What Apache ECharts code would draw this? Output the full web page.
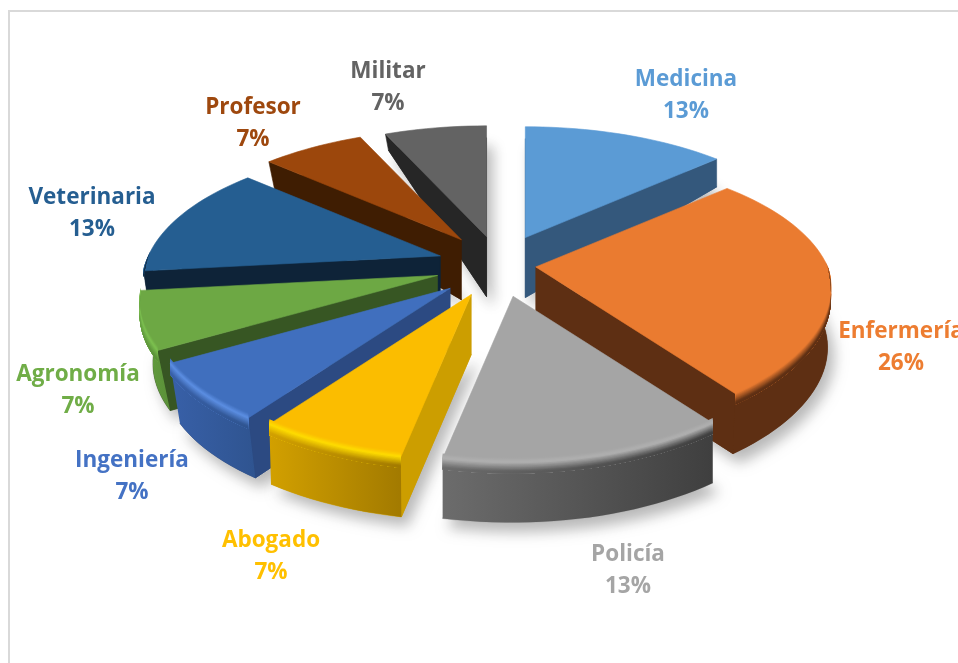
<!DOCTYPE html>
<html><head><meta charset="utf-8">
<style>html,body{margin:0;padding:0;background:#fff;overflow:hidden}#c{width:958px;height:663px}</style>
<script src="https://cdn.jsdelivr.net/npm/echarts@6/dist/echarts.min.js"></script>
</head><body><div id="c"></div>
<script>
// ---- data ----
const categories = ['Medicina','Enfermería','Policía','Abogado','Ingeniería','Agronomía','Veterinaria','Profesor','Militar'];
const values = [13.3,26.4,13.3,6.7,6.7,6.7,13.3,6.7,6.7];
// ---- styles ----
const topColors  = ['#5b9bd5','#ea7b30','#a5a5a5','#fbbd00','#406fbe','#6da844','#255e91','#9c470c','#636363'];
const sideColors = ['#34587c','#5e2f13','#a5a5a5','#cc9e00','#2c4a82','#375623','#0e2338','#3f1d02','#262626'];
const rimLeft    = ['#34587c','#5e2f13','#6c6c6c','#d2a000','#3860a8','#659f40','#0e2338','#3f1d02','#262626'];
const rimRight   = ['#34587c','#5e2f13','#3f3f3f','#a27a00','#2f5490','#5a9038','#0e2338','#3f1d02','#262626'];
const bevelLight = ['#5b9bd5','#ea7b30','#b0b0b0','#ffdc00','#5b8ee2','#7cc14f','#255e91','#9c470c','#636363'];
const labelColors= ['#5b9bd5','#ed7d31','#a5a5a5','#ffc000','#4472c4','#70ad47','#255e91','#9e480e','#636363'];
// ---- layout ----
const drawOrder = [8,0,7,6,5,4,1,3,2];
const explodeTweak = [[15,-1],[-4,-2],[12,1],[1,1],[-3,2],[-5,0],[-2,-1],[1,-2],[7,0]];
const bottomInset = [0,0.012,0,0.008,0.035,0.045,0.03,0.03,0.03];
const labelAnchor = [[686,96],[901,348],[628,571],[271,557],[132,477],[78,391],[92,214],[253,124],[388,88]];
const CX=490, CY=266, RX=50, RY=30, B=292, A=133, K=0.2;

const total = values.reduce((a,b)=>a+b,0);
const starts=[]; let acc=0;
values.forEach(v=>{starts.push(acc/total*360); acc+=v;});
const rad=d=>d*Math.PI/180;
function proj(t){
  const u=Math.sin(rad(t)), v=-Math.cos(rad(t));
  const bx=u>0?B-15*Math.max(v,0):B;
  return [bx*u/(1-K*v), A*v/(1-K*v), v];
}
const depth=v=>v>=0?60:60+48*v;
function hex(c){return [1,3,5].map(i=>parseInt(c.substr(i,2),16));}
function mix(a,b,t){const x=hex(a),y=hex(b);return '#'+x.map((n,i)=>Math.round(n+(y[i]-n)*t).toString(16).padStart(2,'0')).join('');}
const G=echarts.graphic;

function sliceElements(i){
  const a0=starts[i], a1=a0+values[i]/total*360, mid=(a0+a1)/2;
  const tw=explodeTweak[i];
  const ax=CX+RX*Math.sin(rad(mid))+tw[0], ay=CY-RY*Math.cos(rad(mid))+tw[1];
  const T=t=>{const p=proj(t);return [ax+p[0],ay+p[1]];};
  const Bt=t=>{const p=proj(t);return [ax+p[0]*(1-bottomInset[i]),ay+p[1]+depth(p[2])];};
  const angles=[];for(let t=a0;t<a1-0.01;t+=2)angles.push(t);angles.push(a1);
  const els=[];
  const poly=(pts,fill,extra)=>els.push({type:'polygon',silent:true,shape:{points:pts},style:Object.assign({fill:fill,stroke:typeof fill==='string'?fill:null,lineWidth:typeof fill==='string'?0.6:0},extra||{})});
  const apexB=[ax,ay+60];
  // shadow-casting base
  poly([apexB].concat(angles.map(Bt)),sideColors[i],{shadowBlur:14,shadowColor:'rgba(0,0,0,0.28)',shadowOffsetX:6,shadowOffsetY:9});
  // radial wall
  const pS=proj(a0), pE=proj(a1);
  if(pS[0]<-1) poly([[ax,ay],T(a0),Bt(a0),apexB],sideColors[i]);
  if(pE[0]>1)  poly([[ax,ay],T(a1),Bt(a1),apexB],sideColors[i]);
  // outer rim
  const front=angles.filter(t=>proj(t)[2]>=-0.06);
  const grad=(l,r)=>new G.LinearGradient(0,0,1,0,[{offset:0,color:l},{offset:1,color:r}]);
  if(front.length>1){
    els.push({type:'polygon',silent:true,shape:{points:front.map(T).concat(front.slice().reverse().map(Bt))},style:{fill:grad(rimLeft[i],rimRight[i])}});
  }
  // top face
  poly([[ax,ay]].concat(angles.map(T)),topColors[i]);
  // bevel bands along the front edge: each band overlaps down to the lowest one
  if(front.length>1){
    const N=14, lo=-5, hi=11;
    for(let j=0;j<N;j++){
      const o0=lo+(hi-lo)*j/N, s=(j+0.5)/N;
      const col=e=>s<0.3?mix(topColors[i],bevelLight[i],s/0.3):mix(bevelLight[i],e,Math.min(1,(s-0.3)/0.55));
      const off=(t,o)=>{const p=T(t),v=proj(t)[2];return [p[0],p[1]+o*Math.min(1,Math.max(0,v*5))];};
      els.push({type:'polygon',silent:true,shape:{points:front.map(t=>off(t,o0)).concat(front.slice().reverse().map(t=>off(t,hi)))},style:{fill:grad(col(rimLeft[i]),col(rimRight[i]))}});
    }
  }
  return els;
}

const chart=echarts.init(document.getElementById('c'),null,{renderer:'canvas'});
chart.setOption({
  animation:false,
  backgroundColor:'#ffffff',
  graphic:[{type:'rect',z:0,silent:true,shape:{x:9,y:11,width:980,height:680},style:{fill:'#fff',stroke:'#d9d9d9',lineWidth:2}}],
  series:[{
    type:'custom',coordinateSystem:'none',z:2,silent:true,clip:false,
    data:drawOrder.map(i=>[i,values[i]]),
    renderItem:(params,api)=>({type:'group',children:sliceElements(api.value(0))})
  },{
    type:'custom',coordinateSystem:'none',z:3,silent:true,clip:false,
    data:categories.map((c,i)=>[i,values[i]]),
    renderItem:(params,api)=>{
      const i=api.value(0);
      return {type:'text',silent:true,style:{
        text:categories[i]+'\n'+Math.round(values[i])+'%',
        x:labelAnchor[i][0],y:labelAnchor[i][1],
        align:'center',verticalAlign:'middle',
        fill:labelColors[i],
        font:'bold 22.5px "Open Sans", Lato, sans-serif',
        lineHeight:32
      }};
    }
  }]
});
</script></body></html>
